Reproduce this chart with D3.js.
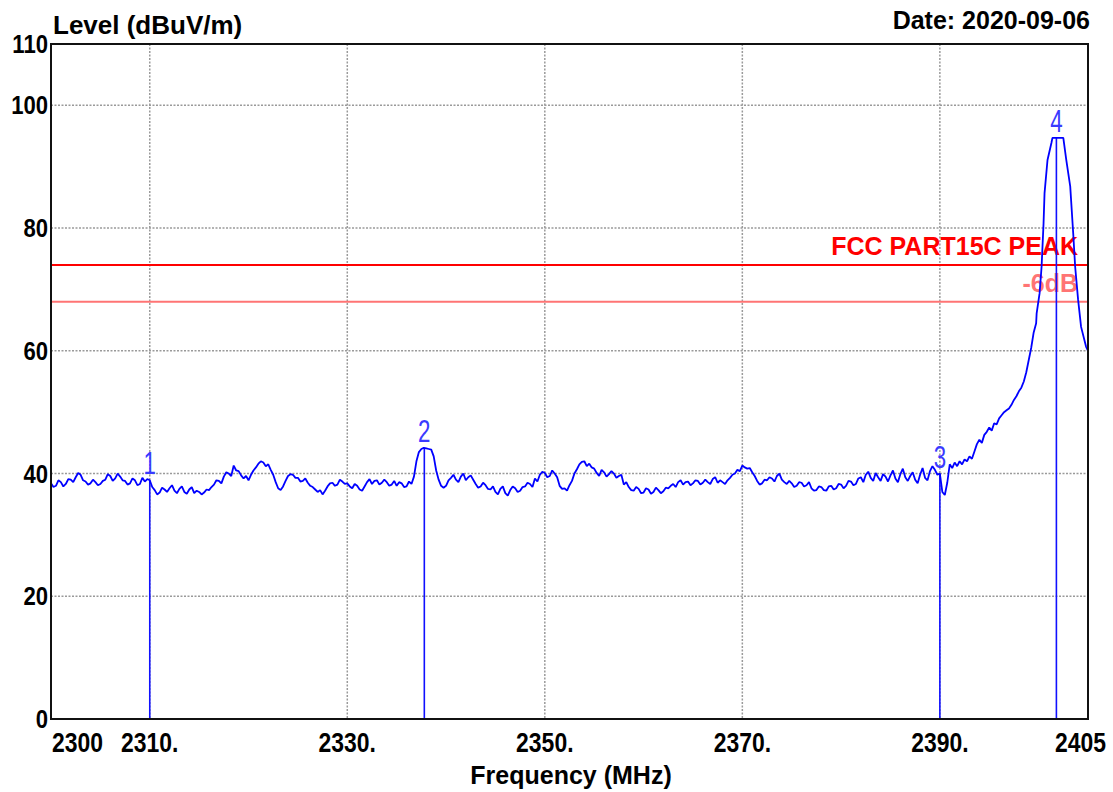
<!DOCTYPE html>
<html>
<head>
<meta charset="utf-8">
<script src="https://cdn.jsdelivr.net/npm/d3@7"></script>
<style>
  html, body { margin: 0; padding: 0; background: #fff; }
  svg { display: block; }
  text { font-family: "Liberation Sans", Arial, sans-serif; }
</style>
</head>
<body>
<svg id="chart" width="1113" height="792"></svg>
<script>
// ── Data ──────────────────────────────────────────────────────────────────
// Spectrum trace, 0.25 MHz steps from 2300 MHz, one row = 2.5 MHz
const traceStart = 2300;
const traceStep = 0.25;
const traceLevels = [
  38.4, 37.8, 38.0, 38.9, 38.6, 37.9, 38.3, 39.1, 39.0, 38.6,
  39.4, 40.1, 39.8, 38.9, 38.7, 38.2, 38.4, 39.0, 38.6, 38.1,
  38.3, 38.8, 39.0, 39.9, 39.6, 38.8, 39.2, 40.0, 39.5, 38.9,
  38.8, 38.2, 38.4, 39.2, 38.9, 38.1, 38.3, 39.3, 38.7, 39.1,
  38.9, 37.8, 37.3, 36.6, 36.9, 37.7, 37.4, 37.0, 37.6, 38.1,
  37.2, 36.8, 37.5, 37.9, 37.0, 36.7, 37.4, 37.8, 36.8, 37.2,
  37.0, 36.6, 36.9, 37.4, 37.3, 37.8, 38.2, 38.9, 38.8, 38.4,
  39.5, 40.2, 40.0, 39.6, 41.3, 40.5, 40.4, 39.7, 39.2, 39.6,
  38.9, 39.8, 40.5, 41.0, 41.6, 42.0, 41.8, 41.2, 41.5, 40.6,
  39.8, 38.6, 37.6, 37.3, 37.9, 38.8, 39.6, 39.9, 39.8, 39.3,
  39.3, 38.7, 38.8, 39.2, 38.5, 38.0, 37.8, 37.4, 37.0, 37.3,
  36.6, 37.2, 37.9, 38.4, 38.5, 38.0, 38.2, 39.0, 38.7, 38.3,
  38.4, 37.9, 37.6, 38.3, 38.0, 37.4, 37.2, 37.9, 38.6, 39.1,
  38.3, 38.8, 38.9, 38.2, 38.5, 39.0, 38.6, 38.0, 38.2, 38.8,
  38.0, 38.6, 38.4, 37.8, 37.9, 38.7, 38.3, 39.5, 42.0, 43.5,
  44.0, 44.2, 44.1, 44.0, 43.9, 42.8, 40.5, 39.0, 38.0, 37.7,
  38.0, 38.9, 39.3, 39.8, 39.0, 38.6, 39.5, 40.0, 38.9, 39.4,
  39.7, 39.0, 38.3, 37.7, 37.9, 38.5, 38.1, 37.5, 37.4, 37.9,
  37.0, 36.6, 37.5, 37.9, 36.8, 36.4, 37.3, 37.9, 37.6, 37.0,
  37.2, 37.8, 37.9, 38.5, 38.3, 37.8, 39.2, 38.7, 39.8, 40.3,
  40.1, 39.4, 39.6, 40.5, 40.0, 39.4, 38.0, 37.5, 37.6, 37.2,
  38.1, 38.8, 40.0, 40.7, 41.5, 41.9, 42.0, 41.2, 41.6, 41.0,
  40.8, 40.1, 39.6, 40.6, 40.2, 39.5, 39.9, 40.4, 40.0, 39.3,
  39.6, 39.8, 38.2, 38.6, 37.8, 37.3, 37.2, 37.8, 37.5, 36.8,
  36.9, 37.6, 37.4, 36.7, 37.0, 37.7, 37.3, 36.8, 37.1, 37.7,
  37.6, 38.0, 38.3, 37.8, 38.6, 38.9, 38.2, 38.6, 38.7, 38.1,
  38.4, 38.9, 38.8, 38.2, 38.5, 39.0, 38.6, 38.3, 39.1, 39.4,
  38.5, 38.9, 38.6, 38.3, 38.9, 39.3, 39.8, 40.0, 40.6, 40.4,
  41.3, 41.0, 40.8, 40.9, 40.2, 39.6, 38.8, 38.2, 38.4, 39.0,
  38.9, 39.4, 39.2, 38.7, 39.6, 40.0, 39.0, 38.6, 38.3, 38.8,
  38.4, 37.8, 38.0, 38.6, 38.5, 37.9, 38.1, 38.6, 37.6, 37.2,
  37.3, 37.9, 37.8, 37.3, 37.2, 37.9, 38.0, 37.4, 37.6, 38.3,
  38.2, 37.6, 38.0, 38.8, 38.7, 38.1, 38.3, 39.2, 39.4, 38.6,
  39.8, 40.3, 39.3, 38.8, 40.1, 39.4, 38.8, 39.9, 39.5, 38.7,
  39.7, 40.5, 39.2, 38.6, 39.9, 40.8, 39.4, 38.8, 39.6, 40.2,
  39.0, 38.4, 39.8, 40.9, 39.3, 38.9, 40.4, 41.2, 40.6, 39.8,
  40.0, 37.0, 36.5, 38.5, 41.5, 40.9, 41.8, 41.2, 42.0, 41.5,
  42.3, 42.0, 42.8, 42.4, 43.6, 44.8, 45.5, 45.0, 46.3, 46.8,
  47.5, 47.0, 48.2, 48.0, 49.0, 49.5, 50.0, 50.3, 50.6, 51.2,
  52.0, 52.6, 53.4, 54.0, 55.0, 56.5, 58.5, 60.5, 63.0, 64.5
];
// Carrier peak at the band edge (irregular points)
const peakFreqs  = [2399.8, 2400.1, 2400.3, 2400.5, 2400.6, 2400.9, 2401.3, 2401.4, 2402.5,
                    2402.8, 2403.2, 2403.5, 2403.7, 2404.0, 2404.3, 2404.8, 2405.0];
const peakLevels = [66.1, 69.4, 73.7, 80.8, 85.7, 91.1, 93.9, 94.7, 94.7,
                    91.1, 86.8, 79.2, 73.7, 68.3, 63.9, 60.7, 60.0];

// Markers
const markerNames  = ['1', '2', '3', '4'];
const markerFreqs  = [2310, 2337.8, 2390, 2401.8];
const markerLevels = [38.9, 44.1, 40.0, 94.7];

// Limit lines
const limitNames  = ['FCC PART15C PEAK', '-6dB'];
const limitLevels = [74, 68];
const limitColors = ['#ff0000', '#ff7474'];

// Axes
const xGridValues = [2310, 2330, 2350, 2370, 2390];
const xTickValues = [2300, 2310, 2330, 2350, 2370, 2390, 2405];
const xTickText   = ['2300', '2310.', '2330.', '2350.', '2370.', '2390.', '2405'];
const yGridValues = [20, 40, 60, 80, 100];
const yTickValues = [0, 20, 40, 60, 80, 100, 110];

(function () {
  // ── Layout ──────────────────────────────────────────────────────────────
  const plotLeft = 51, plotRight = 1088, plotTop = 44, plotBottom = 719;
  const svg = d3.select('#chart');

  const x = d3.scaleLinear().domain([2300, 2405]).range([plotLeft, plotRight]);
  const y = d3.scaleLinear().domain([0, 110]).range([plotBottom, plotTop]);

  const traceData = traceLevels.map(function (v, i) {
    return { f: traceStart + i * traceStep, v: v };
  }).concat(peakFreqs.map(function (f, i) { return { f: f, v: peakLevels[i] }; }));

  // ── Grid ────────────────────────────────────────────────────────────────
  const grid = svg.append('g').attr('class', 'grid')
    .attr('stroke', '#9a9a9a').attr('stroke-width', 1.5).attr('stroke-dasharray', '2,1.5');

  grid.selectAll('line.v').data(xGridValues).join('line')
    .attr('class', 'v')
    .attr('x1', d => x(d)).attr('x2', d => x(d))
    .attr('y1', plotTop).attr('y2', plotBottom);

  grid.selectAll('line.h').data(yGridValues).join('line')
    .attr('class', 'h')
    .attr('x1', plotLeft).attr('x2', plotRight)
    .attr('y1', d => y(d)).attr('y2', d => y(d));

  // ── Limit lines ─────────────────────────────────────────────────────────
  svg.append('g').selectAll('line').data(limitLevels).join('line')
    .attr('x1', plotLeft).attr('x2', plotRight)
    .attr('y1', d => y(d)).attr('y2', d => y(d))
    .attr('stroke', (d, i) => limitColors[i]).attr('stroke-width', 2);

  svg.append('g').selectAll('text').data(limitLevels).join('text')
    .attr('x', 1078).attr('y', d => y(d) - 10)
    .attr('text-anchor', 'end')
    .attr('font-size', 25).attr('font-weight', 'bold')
    .attr('fill', (d, i) => limitColors[i])
    .text((d, i) => limitNames[i]);

  // ── Markers ─────────────────────────────────────────────────────────────
  const markers = svg.append('g').attr('class', 'markers');
  markers.selectAll('line').data(markerFreqs).join('line')
    .attr('x1', d => x(d)).attr('x2', d => x(d))
    .attr('y1', plotBottom).attr('y2', (d, i) => y(markerLevels[i]))
    .attr('stroke', '#1010ff').attr('stroke-width', 1.6);

  markers.selectAll('text').data(markerFreqs).join('text')
    .attr('transform', (d, i) => `translate(${x(d)},${y(markerLevels[i]) - 6}) scale(0.72,1)`)
    .attr('text-anchor', 'middle')
    .attr('font-size', 31)
    .attr('fill', '#3a3aff')
    .text((d, i) => markerNames[i]);

  // ── Trace ───────────────────────────────────────────────────────────────
  const line = d3.line().x(d => x(d.f)).y(d => y(d.v));
  svg.append('path')
    .datum(traceData)
    .attr('d', line)
    .attr('fill', 'none')
    .attr('stroke', '#0000ff')
    .attr('stroke-width', 1.8)
    .attr('stroke-linejoin', 'bevel');

  // ── Frame ───────────────────────────────────────────────────────────────
  svg.append('rect')
    .attr('x', plotLeft).attr('y', plotTop)
    .attr('width', plotRight - plotLeft).attr('height', plotBottom - plotTop)
    .attr('fill', 'none').attr('stroke', '#111').attr('stroke-width', 2);

  // ── Tick labels ─────────────────────────────────────────────────────────
  svg.append('g').selectAll('text').data(yTickValues).join('text')
    .attr('transform', d => `translate(48,${y(d) + 9}) scale(0.85,1)`)
    .attr('text-anchor', 'end')
    .attr('font-size', 26).attr('font-weight', 'bold')
    .attr('fill', '#000')
    .text(d => d);

  const lastTick = xTickValues.length - 1;
  svg.append('g').selectAll('text').data(xTickValues).join('text')
    .attr('transform', function (d, i) {
      let px = x(d);
      if (i === 0) px = 52;
      if (i === lastTick) px = 1106;
      return `translate(${px},752) scale(0.85,1)`;
    })
    .attr('text-anchor', (d, i) => i === 0 ? 'start' : (i === lastTick ? 'end' : 'middle'))
    .attr('font-size', 27).attr('font-weight', 'bold')
    .attr('fill', '#000')
    .text((d, i) => xTickText[i]);

  // ── Titles ──────────────────────────────────────────────────────────────
  svg.append('text')
    .attr('x', 53).attr('y', 34)
    .attr('font-size', 26).attr('font-weight', 'bold')
    .text('Level (dBuV/m)');

  svg.append('text')
    .attr('x', 1090).attr('y', 29)
    .attr('text-anchor', 'end')
    .attr('font-size', 25).attr('font-weight', 'bold')
    .text('Date: 2020-09-06');

  svg.append('text')
    .attr('x', 571).attr('y', 784)
    .attr('text-anchor', 'middle')
    .attr('font-size', 25).attr('font-weight', 'bold')
    .text('Frequency (MHz)');
})();
</script>
</body>
</html>
